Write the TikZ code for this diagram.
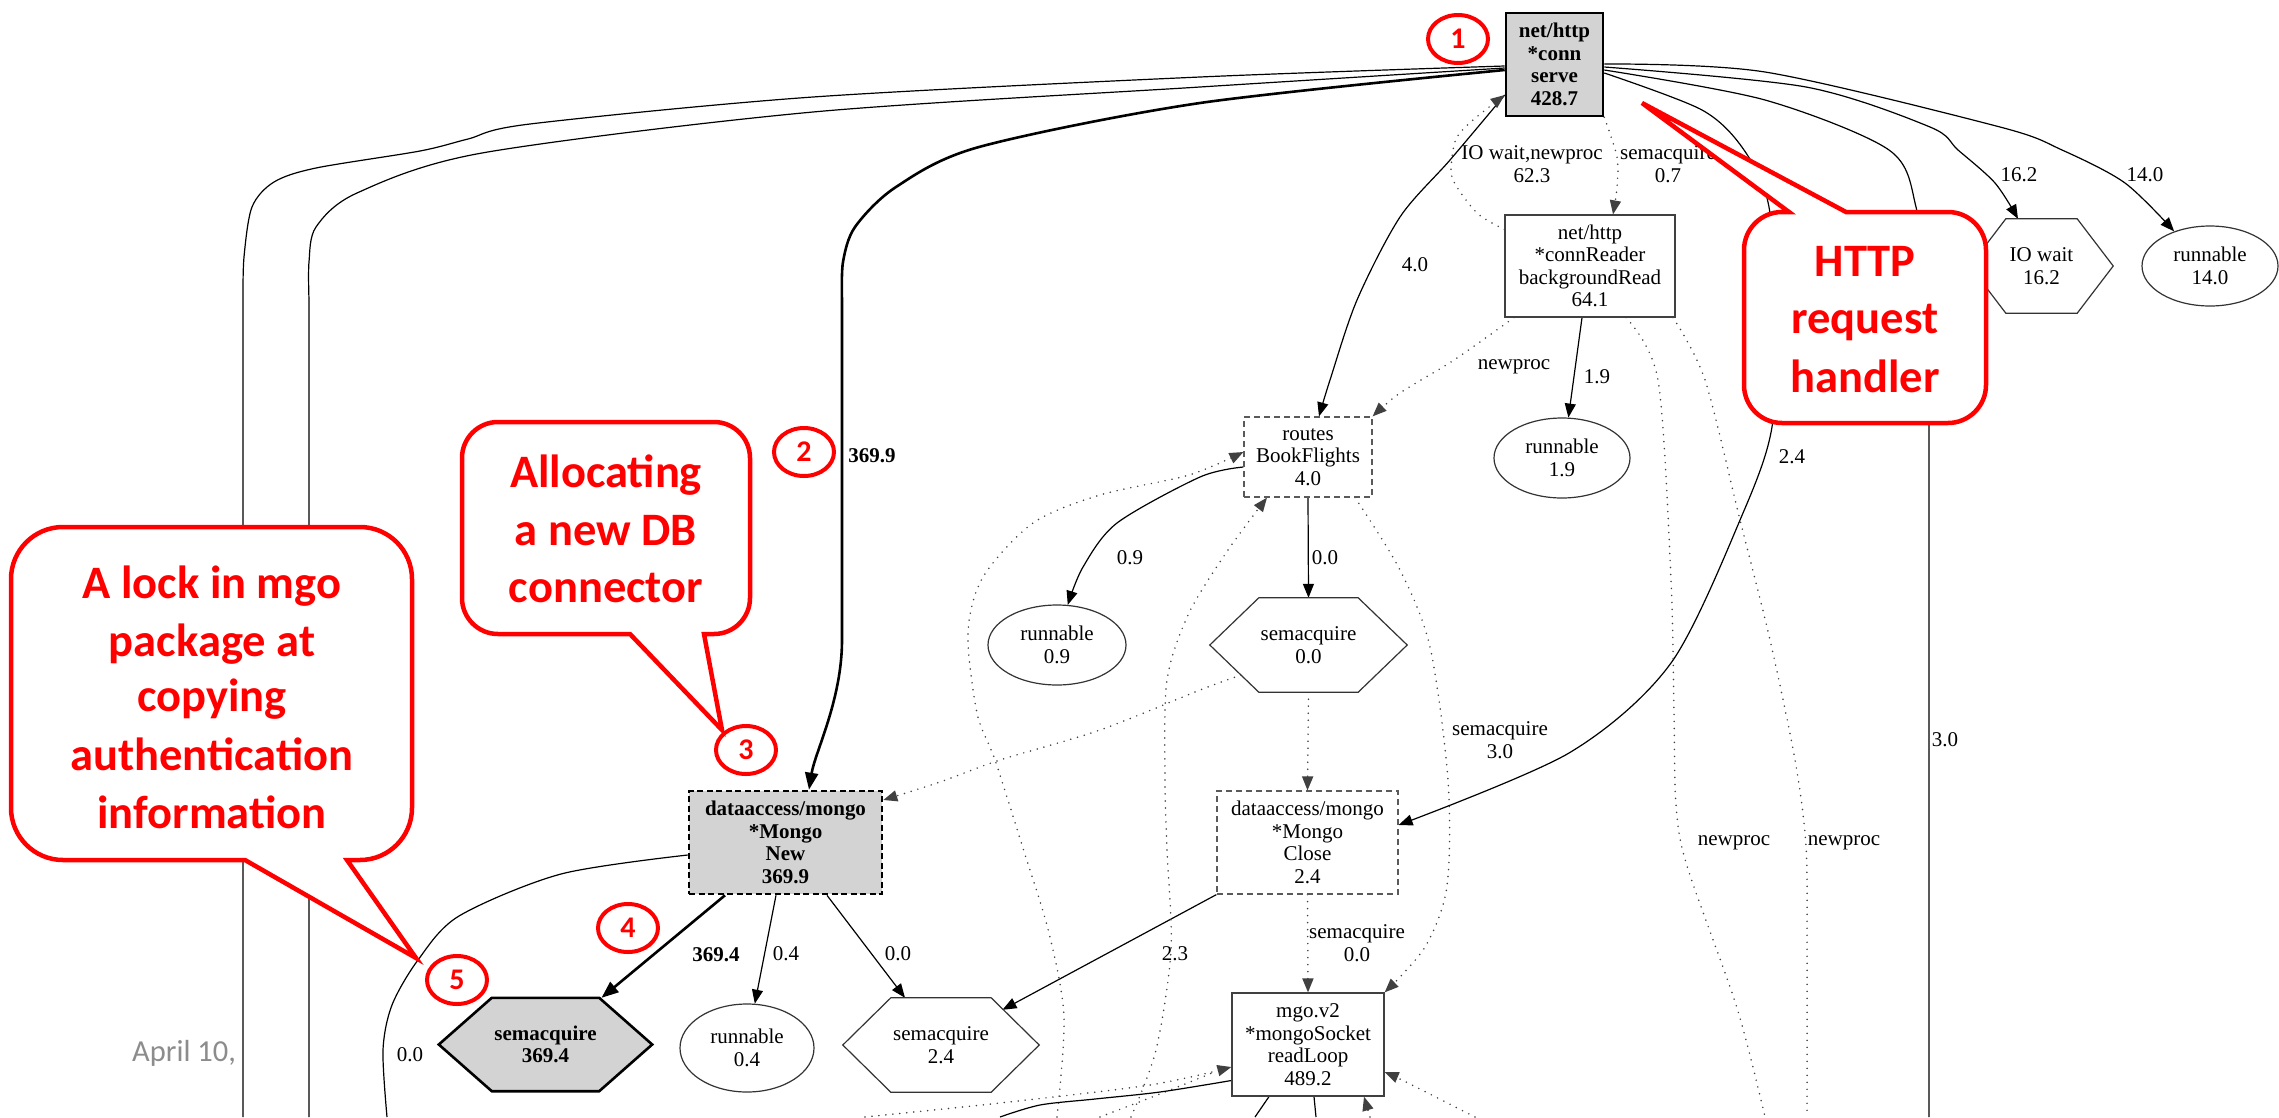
\documentclass[tikz,border=0pt]{standalone}
\usepackage{fontspec}
\setmainfont{Liberation Serif}
\newfontfamily\callfont{Carlito}
\usetikzlibrary{arrows.meta,shapes.geometric}
\definecolor{cred}{RGB}{255,0,0}
\definecolor{hotfill}{RGB}{211,211,211}
\definecolor{dgray}{RGB}{90,90,90}
\definecolor{dategray}{RGB}{140,140,140}
\pgfdeclarelayer{back}
\pgfdeclarelayer{edges}
\pgfdeclarelayer{shapes}
\pgfdeclarelayer{front}
\pgfsetlayers{back,edges,shapes,main,front}
\newcommand\gsize{\fontsize{21}{22.5}\selectfont}
\newcommand\csize{\fontsize{46.5}{58}\selectfont}

\begin{document}
\begin{tikzpicture}[x=1pt,y=-1pt,
  gnode/.style={inner sep=0pt, align=center, font=\gsize},
  gbox/.style={gnode, rectangle, draw=black!75, line width=1.2pt, fill=white},
  dbox/.style={gbox, draw=dgray, dash pattern=on 6pt off 4pt},
  hotbox/.style={gbox, draw=black, fill=hotfill, line width=2.6pt, font=\gsize\bfseries},
  hotdbox/.style={hotbox, dash pattern=on 6pt off 3.5pt},
  ell/.style={gnode, ellipse, draw=black!80, line width=1.2pt, fill=white},
  hexn/.style={gnode, rectangle},
  hexline/.style={draw=black!80, line width=1.2pt, fill=white},
  hothex/.style={draw=black, line width=2.6pt, fill=hotfill},
  ln/.style={draw=black, line width=1.2pt},
  heavy/.style={draw=black, line width=2.6pt},
  dotedge/.style={draw=black!75, line width=1.7pt, line cap=round, dash pattern=on 0pt off 7pt},
  arr/.style={-{Triangle[length=14pt,width=11pt]}},
  bigarr/.style={-{Triangle[length=17pt,width=13pt]}},
  lbl/.style={gnode},
  numc/.style={ellipse, draw=cred, line width=4pt, fill=white, minimum width=60pt,
    minimum height=48pt, inner sep=0pt, text=cred,
    font=\callfont\bfseries\fontsize{30}{30}\selectfont},
  cbox/.style={draw=cred, line width=4.5pt, fill=white},
  ctext/.style={anchor=base, text=cred, font=\callfont\bfseries\csize, inner sep=0pt},
]
\useasboundingbox (0,0) rectangle (2279,1117);
\begin{pgfonlayer}{back}
  \fill[white] (0,0) rectangle (2279,1117);
\end{pgfonlayer}

% ---------- graph nodes ----------
\node[hotbox, minimum width=97pt, minimum height=103pt] (serve) at (1554.5,64.5) {net/http\\*conn\\serve\\428.7};
\node[gbox, minimum width=170pt, minimum height=102pt] (reader) at (1590,266) {net/http\\*connReader\\backgroundRead\\64.1};
\node[dbox, minimum width=128pt, minimum height=80pt] (book) at (1308,457) {routes\\BookFlights\\4.0};
\node[hexn, minimum width=197pt, minimum height=94pt] (semzero) at (1308.5,645) {semacquire\\0.0};
\node[ell, minimum width=136pt, minimum height=80pt] (runA) at (1562,458) {runnable\\1.9};
\node[ell, minimum width=138pt, minimum height=80pt] (runB) at (1057,645) {runnable\\0.9};
\node[hexn, minimum width=143pt, minimum height=94pt] (iow) at (2041.5,266) {IO wait\\16.2};
\node[ell, minimum width=136pt, minimum height=80pt] (runC) at (2210,266) {runnable\\14.0};
\node[hotdbox, minimum width=193pt, minimum height=103pt] (mnew) at (785.5,842.5) {dataaccess/mongo\\*Mongo\\New\\369.9};
\node[dbox, minimum width=181pt, minimum height=103pt] (mclose) at (1307.5,842.5) {dataaccess/mongo\\*Mongo\\Close\\2.4};
\node[gbox, minimum width=152pt, minimum height=103pt] (rloop) at (1308,1044.5) {mgo.v2\\*mongoSocket\\readLoop\\489.2};
\node[hexn, font=\gsize\bfseries, minimum width=213pt, minimum height=93pt] (semhot) at (545.5,1044.5) {semacquire\\369.4};
\node[ell, minimum width=134pt, minimum height=88pt] (runD) at (747,1048) {runnable\\0.4};
\node[hexn, minimum width=196pt, minimum height=94pt] (semtwo) at (941,1045) {semacquire\\2.4};

% hexagon outlines
\begin{pgfonlayer}{shapes}
  \draw[hexline] (semzero.west) -- ([xshift=49pt]semzero.north west) -- ([xshift=-49pt]semzero.north east)
    -- (semzero.east) -- ([xshift=-49pt]semzero.south east) -- ([xshift=49pt]semzero.south west) -- cycle;
  \draw[hexline] (iow.west) -- ([xshift=36pt]iow.north west) -- ([xshift=-36pt]iow.north east)
    -- (iow.east) -- ([xshift=-36pt]iow.south east) -- ([xshift=36pt]iow.south west) -- cycle;
  \draw[hothex] (semhot.west) -- ([xshift=53pt]semhot.north west) -- ([xshift=-53pt]semhot.north east)
    -- (semhot.east) -- ([xshift=-53pt]semhot.south east) -- ([xshift=53pt]semhot.south west) -- cycle;
  \draw[hexline] (semtwo.west) -- ([xshift=48pt]semtwo.north west) -- ([xshift=-48pt]semtwo.north east)
    -- (semtwo.east) -- ([xshift=-48pt]semtwo.south east) -- ([xshift=48pt]semtwo.south west) -- cycle;
\end{pgfonlayer}

% ---------- connector end points ----------
\coordinate (sw1) at ([yshift=-1.5pt]serve.west);
\coordinate (sw2) at ([yshift=-3.5pt]serve.west);
\coordinate (sw3) at ([yshift=-5.5pt]serve.west);
\coordinate (sw4) at ([yshift=-30.5pt]serve.west);
\coordinate (se1) at ([yshift=0.5pt]serve.east);
\coordinate (se2) at ([yshift=-2.5pt]serve.east);
\coordinate (se3) at ([yshift=-5.5pt]serve.east);
\coordinate (se4) at ([yshift=-8.5pt]serve.east);
\coordinate (newin) at ([xshift=23.5pt]mnew.north);
\coordinate (newin2) at ([yshift=42.5pt]mnew.east);
\coordinate (iowin) at ([xshift=-23.5pt]iow.north);
\coordinate (closein) at ([yshift=17.5pt]mclose.east);
\coordinate (bookin) at ([xshift=11pt]book.north);
\coordinate (bookin2) at ([yshift=5pt]book.west);
\coordinate (bookin3) at ([xshift=-41pt]book.south);
\coordinate (bookout1) at ([yshift=-10pt]book.west);
\coordinate (bookout2) at ([xshift=47pt]book.south);
\coordinate (readin1) at ([xshift=23pt]reader.north);
\coordinate (readout1) at ([yshift=-15pt]reader.north west);
\coordinate (readout2) at ([xshift=-76pt]reader.south);
\coordinate (readout3) at ([xshift=36pt]reader.south);
\coordinate (readout4) at ([xshift=83pt]reader.south);
\coordinate (semout) at ([xshift=-67.5pt,yshift=-30pt]semzero.center);
\coordinate (semtwoin) at ([xshift=61.5pt,yshift=-12pt]semtwo.north);
\coordinate (loopin1) at ([yshift=-22.5pt]rloop.west);
\coordinate (loopin2) at ([yshift=-36pt]rloop.west);
\coordinate (loopin3) at ([yshift=-27.5pt]rloop.east);
% free ends at the lower border
\coordinate (b1) at (243,1117);
\coordinate (b2) at (309,1117);
\coordinate (b3) at (1929,1117);
\coordinate (b4) at (1765,1117);
\coordinate (b5) at (1807,1117);
\coordinate (b6) at (387,1117);
\coordinate (b7) at (1057,1117);
\coordinate (b8) at (1131,1117);
\coordinate (b9) at (865,1117);
\coordinate (b10) at (1100,1117);
\coordinate (b11) at (1000,1117);
\coordinate (b12) at (1255,1117);
\coordinate (b13) at (1316,1117);
\coordinate (b14) at (1370,1117);
\coordinate (b15) at (1475,1117);

% ---------- connectors ----------
\begin{pgfonlayer}{edges}
  % serve, left side
  \draw[ln] plot[smooth,tension=0.5] coordinates {(sw1) (1200,77) (813,97) (530,124) (468,139) (420,151) (316,168) (274,182) (252,207) (244,257) (243,300)} -- (b1);
  \draw[ln] plot[smooth,tension=0.5] coordinates {(sw2) (1200,87) (813,112) (482,153) (357,193) (316,227) (309,262) (309,300)} -- (b2);
  \draw[heavy,bigarr] plot[smooth,tension=0.5] coordinates {(sw3) (1200,103) (979,147) (896,187) (855,227) (843,262) (842,300)}
    -- (842,640) .. controls (842,700) and (815,752) .. (newin);
  % serve, right side
  \draw[ln,arr] plot[smooth,tension=0.5] coordinates {(se1) (1765,72) (2000,127) (2062,150) (2125,183) (runC.136)};
  \draw[ln,arr] plot[smooth,tension=0.5] coordinates {(se2) (1806,87) (1930,127) (1958,150) (1995,183) (iowin)};
  \draw[ln] plot[smooth,tension=0.5] coordinates {(se3) (1765,100) (1889,150) (1916,207) (1927,300) (1929,420)} -- (b3);
  \draw[ln,arr] plot[smooth,tension=0.5] coordinates {(se4) (1702,110) (1744,150) (1769,207) (1775,320) (1772,427) (1743,513) (1671,663) (1569,753) (closein)};
  % serve <-> BookFlights, connReader
  \draw[ln,arr] plot[smooth,tension=0.5] coordinates {(sw4) (1450,160) (1400,217) (1357,300) (1330,380) (bookin)};
  \draw[dotedge,arr] plot[smooth,tension=0.5] coordinates {(serve.south east) (1617,157) (1617,187) (readin1)};
  \draw[dotedge,arr] plot[smooth,tension=0.5] coordinates {(readout1) (1477,213) (1453,180) (1452,157) (1457,137) (1473,120) (sw4)};
  % connReader out
  \draw[ln,arr] ([xshift=-8pt]reader.south) -- (runA.81);
  \draw[dotedge,arr] plot[smooth,tension=0.5] coordinates {(readout2) (1454,360) (1400,393) (book.north east)};
  \draw[dotedge] plot[smooth,tension=0.5] coordinates {(readout3) (1658,380) (1671,580) (1674,713) (1676,805) (1687,866) (1737,1008) (b4)};
  \draw[dotedge] plot[smooth,tension=0.5] coordinates {(readout4) (1705,380) (1740,520) (1770,640) (1795,760) (1806,846) (1807,950) (b5)};
  % BookFlights out
  \draw[ln,arr] plot[smooth,tension=0.5] coordinates {(bookout1) (1200,477) (1117,523) (1083,567) (runB.75)};
  \draw[ln,arr] (book.south) -- (semzero.north);
  \draw[dotedge,arr] (semzero.south) -- (mclose.north);
  \draw[dotedge,arr] plot[smooth,tension=0.5] coordinates {(semout) (1200,690) (1100,730) (1000,760) (940,782) (newin2)};
  \draw[dotedge,arr] plot[smooth,tension=0.5] coordinates {(bookout2) (1400,570) (1430,647) (1448,780) (1447,886) (1425,947) (rloop.north east)};
  % Close out
  \draw[dotedge,arr] (mclose.south) -- (rloop.north);
  \draw[ln,arr] (mclose.south west) -- (semtwoin);
  % Mongo New out
  \draw[heavy,bigarr] ([xshift=-60.5pt]mnew.south) -- ([xshift=56pt]semhot.north);
  \draw[ln,arr] ([xshift=-9.5pt]mnew.south) -- (runD.80);
  \draw[ln,arr] ([xshift=41.5pt]mnew.south) -- ([xshift=-36pt]semtwo.north);
  \draw[ln] plot[smooth,tension=0.5] coordinates {([yshift=-12.5pt]mnew.west) (561,874) (459,916) (418,960) (392,1005) (383,1050) (b6)};
  % long dotted arrivals at BookFlights
  \draw[dotedge,arr] plot[smooth,tension=0.5] coordinates {(b7) (1064,1017) (1049,933) (1022,845) (995,760) (977,713) (968,633) (983,577) (1033,523) (1100,495) (1189,475) (bookin2)};
  \draw[dotedge,arr] plot[smooth,tension=0.5] coordinates {(b8) (1156,1050) (1171,950) (1167,850) (1165,780) (1167,680) (1189,613) (1228,550) (bookin3)};
  % around readLoop
  \draw[dotedge,arr] plot[smooth,tension=0.5] coordinates {(b9) (1000,1103) (1150,1085) (loopin1)};
  \draw[dotedge] plot[smooth,tension=0.5] coordinates {(b10) (1170,1090) (1212,1073)};
  \draw[ln] plot[smooth,tension=0.5] coordinates {(b11) (1040,1105) (1095,1099) (1160,1092) (loopin2)};
  \draw[ln] ([xshift=-39pt]rloop.south) -- (b12);
  \draw[ln] ([xshift=6pt]rloop.south) -- (b13);
  \draw[dotedge,arr] (b14) -- ([xshift=56pt]rloop.south);
  \draw[dotedge,arr] plot[smooth,tension=0.5] coordinates {(b15) (1406,1082) (loopin3)};
\end{pgfonlayer}

% ---------- connector labels ----------
\node[lbl, font=\gsize\bfseries] (l369a) at (872,456) {369.9};
\node[lbl] (lio) at (1532,164) {IO wait,newproc\\62.3};
\node[lbl] (lsem07) at (1668,164) {semacquire\\0.7};
\node[lbl] (l40) at (1415,265) {4.0};
\node[lbl] (lnp1) at (1514,367) {newproc};
\node[lbl] (l19) at (1597,377) {1.9};
\node[lbl] (l162) at (2019,175) {16.2};
\node[lbl] (l140) at (2145,175) {14.0};
\node[lbl] (l24) at (1792,457) {2.4};
\node[lbl] (l09) at (1130,558) {0.9};
\node[lbl] (l00a) at (1325,558) {0.0};
\node[lbl] (lsem30) at (1500,740) {semacquire\\3.0};
\node[lbl] (l30) at (1945,740) {3.0};
\node[lbl] (lnp2) at (1734,843) {newproc};
\node[lbl] (lnp3) at (1844,843) {newproc};
\node[lbl] (lsem00) at (1357,943) {semacquire\\0.0};
\node[lbl] (l23) at (1175,954) {2.3};
\node[lbl, font=\gsize\bfseries] (l369b) at (716,955) {369.4};
\node[lbl] (l04) at (786,954) {0.4};
\node[lbl] (l00b) at (898,954) {0.0};
\node[lbl] (l00c) at (410,1055) {0.0};

% footer date
\node[anchor=base west, inner sep=0pt, text=dategray, font=\callfont\fontsize{30.5}{30.5}\selectfont] (date) at (132,1061) {April 10,};

% ---------- numbered markers and callouts ----------
\begin{pgfonlayer}{front}
  \node[numc] (c1) at (1458,39) {1};
  \node[numc] (c2) at (804,452) {2};
  \node[numc] (c3) at (746,750) {3};
  \node[numc] (c4) at (628,928) {4};
  \node[numc] (c5) at (457,980) {5};

  % request handler callout, pointer on top edge
  \draw[cbox] (1846,212) -- (1642,103) -- (1789,212) -- (1782,212)
    .. controls (1761,212) and (1744,229) .. (1744,250) -- (1744,385)
    .. controls (1744,406) and (1761,423) .. (1782,423) -- (1948,423)
    .. controls (1969,423) and (1986,406) .. (1986,385) -- (1986,250)
    .. controls (1986,229) and (1969,212) .. (1948,212) -- cycle;
  \node[ctext] (h1) at (1865,276) {HTTP};
  \node[ctext] (h2) at (1865,333) {request};
  \node[ctext] (h3) at (1865,392) {handler};

  % DB connector callout, pointer on bottom edge
  \draw[cbox] (630,634) -- (722,730) -- (704,634) -- (714,634)
    .. controls (733.9,634) and (750,617.9) .. (750,598) -- (750,458)
    .. controls (750,438.1) and (733.9,422) .. (714,422) -- (498,422)
    .. controls (478.1,422) and (462,438.1) .. (462,458) -- (462,598)
    .. controls (462,617.9) and (478.1,634) .. (498,634) -- cycle;
  \node[ctext] (a1) at (606,487) {Allocating};
  \node[ctext] (a2) at (606,545) {a new DB};
  \node[ctext] (a3) at (606,602) {connector};

  % lock callout, pointer on bottom edge
  \draw[cbox] (245,860) -- (416,958) -- (347,860) -- (360,860)
    .. controls (388.7,860) and (412,836.7) .. (412,808) -- (412,579)
    .. controls (412,550.3) and (388.7,527) .. (360,527) -- (63,527)
    .. controls (34.3,527) and (11,550.3) .. (11,579) -- (11,808)
    .. controls (11,836.7) and (34.3,860) .. (63,860) -- cycle;
  \node[ctext] (k1) at (212,598) {A lock in mgo};
  \node[ctext] (k2) at (212,656) {package at};
  \node[ctext] (k3) at (212,711) {copying};
  \node[ctext] (k4) at (212,770) {authentication};
  \node[ctext] (k5) at (212,828) {information};
\end{pgfonlayer}
\end{tikzpicture}
\end{document}
